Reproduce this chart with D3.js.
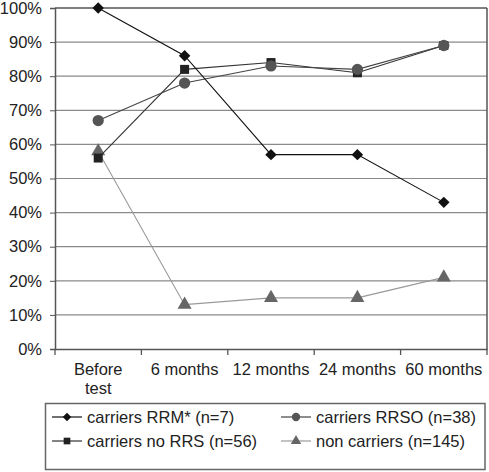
<!DOCTYPE html>
<html><head><meta charset="utf-8">
<script src="https://cdn.jsdelivr.net/npm/d3@7"></script>
<style>body{margin:0;background:#fff}svg{display:block}text{font-family:"Liberation Sans",Arial,sans-serif}</style>
</head><body>
<svg id="c" width="489" height="472"></svg>
<script>
const categories = ["Before\ntest","6 months","12 months","24 months","60 months"];
const yTicks = [0,10,20,30,40,50,60,70,80,90,100];
const rrm = [100,86,57,57,43];
const rrso = [67,78,83,82,89];
const noRrs = [56,82,84,81,89];
const nonCarriers = [58,13,15,15,21];
const seriesNames = ["carriers RRM* (n=7)","carriers RRSO (n=38)","carriers no RRS (n=56)","non carriers (n=145)"];

const rrmS  = {name:seriesNames[0], values:rrm, sym:d3.symbolSquare, rot:45, size:66, fill:"#111", line:"#111"};
const rrsoS = {name:seriesNames[1], values:rrso, sym:d3.symbolCircle, rot:0, size:100, fill:"#555", line:"#444"};
const noS   = {name:seriesNames[2], values:noRrs, sym:d3.symbolSquare, rot:0, size:81, fill:"#222", line:"#333"};
const nonS  = {name:seriesNames[3], values:nonCarriers, sym:d3.symbolTriangle, rot:0, size:85, fill:"#666", line:"#999"};
const drawOrder = [nonS, noS, rrsoS, rrmS];
const legendOrder = [rrmS, rrsoS, noS, nonS];

const svg = d3.select("#c");
const L=55, R=487, T=8, B=349;
const x = d3.scaleBand().domain(categories).range([L,R]);
const y = d3.scaleLinear().domain([0,100]).range([B,T]);
const FS = 16.5;

svg.append("g").selectAll("line").data(yTicks.filter(d=>d>0)).join("line")
  .attr("x1",L).attr("x2",R).attr("y1",d=>y(d)).attr("y2",d=>y(d))
  .attr("stroke",d=>d===100?"#555":"#8a8a8a").attr("stroke-width",d=>d===100?1.5:1.2);
svg.append("line").attr("x1",R).attr("x2",R).attr("y1",T).attr("y2",B).attr("stroke","#555").attr("stroke-width",1.5);

const ya = svg.append("g").attr("transform",`translate(${L},0)`)
  .call(d3.axisLeft(y).tickValues(yTicks).tickFormat(d=>d+"%").tickSize(5).tickPadding(8));
ya.select(".domain").attr("stroke","#555").attr("stroke-width",1.5);
ya.selectAll(".tick line").attr("stroke","#555");
ya.selectAll("text").attr("font-size",FS).attr("fill","#222").attr("font-family","Liberation Sans, Arial, sans-serif");

const xa = svg.append("g").attr("transform",`translate(0,${B})`)
  .call(d3.axisBottom(x).tickSize(0).tickFormat(""));
xa.select(".domain").attr("stroke","#555").attr("stroke-width",1.5);
const tickPos = categories.map(c=>x(c)).concat([R]);
svg.append("g").selectAll("line").data(tickPos).join("line")
  .attr("x1",d=>d).attr("x2",d=>d).attr("y1",B).attr("y2",B+6).attr("stroke","#555").attr("stroke-width",1.3);
categories.forEach(c=>{
  const cxp = x(c)+x.bandwidth()/2;
  const t=svg.append("text").attr("x",cxp).attr("y",375).attr("text-anchor","middle")
    .attr("font-size",FS).attr("fill","#222");
  c.split("\n").forEach((l,i)=>t.append("tspan").attr("x",cxp).attr("dy",i?19:0).text(l));
});

const cx = i=>x(categories[i])+x.bandwidth()/2;
drawOrder.forEach(s=>{
  svg.append("path").datum(s.values)
    .attr("d",d3.line().x((d,i)=>cx(i)).y(d=>y(d)))
    .attr("fill","none").attr("stroke",s.line).attr("stroke-width",1.1);
  svg.append("g").selectAll("path").data(s.values).join("path")
    .attr("transform",(d,i)=>`translate(${cx(i)},${y(d)}) rotate(${s.rot})`)
    .attr("d",d3.symbol(s.sym,s.size)).attr("fill",s.fill);
});

svg.append("rect").attr("x",45.5).attr("y",403.5).attr("width",439.5).attr("height",66)
  .attr("fill","#fff").attr("stroke","#666").attr("stroke-width",1.5);
const pos=[[52,417],[281,417],[52,441],[281,441]];
legendOrder.forEach((s,i)=>{
  const [lx,ly]=pos[i];
  svg.append("line").attr("x1",lx).attr("x2",lx+30).attr("y1",ly).attr("y2",ly).attr("stroke",s.line).attr("stroke-width",1.2);
  svg.append("path").attr("transform",`translate(${lx+15},${ly}) rotate(${s.rot})`).attr("d",d3.symbol(s.sym,s.size*0.55)).attr("fill",s.fill);
  svg.append("text").attr("x",lx+35).attr("y",ly+6).attr("font-size",FS).attr("fill","#222").text(s.name);
});
</script>
</body></html>
